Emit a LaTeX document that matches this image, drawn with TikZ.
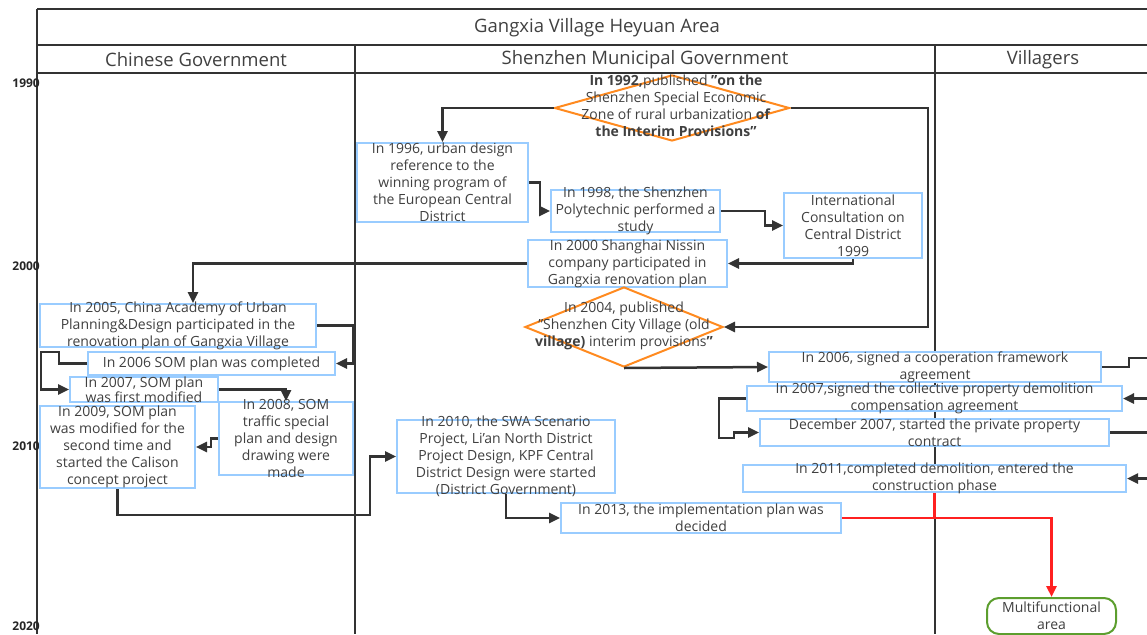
\documentclass[tikz,border=0pt]{standalone}
\usepackage{fontspec}
\setmainfont{Open Sans}
\usetikzlibrary{arrows.meta,shapes.geometric}

\definecolor{boxblue}{HTML}{99CCFF}
\definecolor{lineg}{HTML}{333333}
\definecolor{txtg}{HTML}{404040}
\definecolor{dorange}{HTML}{FF8A1F}
\definecolor{mgreen}{HTML}{5C9E2E}
\definecolor{hotred}{HTML}{FF2020}

\begin{document}
\begin{tikzpicture}[
		x=1pt, y=-1pt,
		every node/.style={font=\fontsize{14}{17}\selectfont, text=txtg, align=center, inner sep=0pt},
		box/.style={rectangle, draw=boxblue, line width=2pt, fill=white, inner xsep=2pt, inner ysep=-4pt},
		dia/.style={diamond, draw=dorange, line width=2pt, fill=white},
		head/.style={font=\fontsize{18.5}{20}\selectfont},
		year/.style={font=\bfseries\fontsize{12}{12}\selectfont, text=black!85, anchor=east},
		lane/.style={draw=lineg, line width=2.5pt},
		link/.style={draw=lineg, line width=2.5pt, -{Triangle[length=11pt,width=10pt]}},
		hot/.style={link, draw=hotred, -{Triangle[length=11pt,width=10pt]}}
	]
  \useasboundingbox (0,0) rectangle (1147,634);
  % frame and lanes
  \draw [draw=lineg, line width=1.5pt] (37,9) -- (1147,9);
  \draw [draw=lineg, line width=2pt] (37,45) -- (1147,45);
  \draw [lane] (37,73) -- (1147,73);
  \draw [lane] (37,9) -- (37,634);
  \draw [lane] (355,45) -- (355,634);
  \draw [lane] (935,45) -- (935,634);
  \node (title) [head] at (597,28) {Gangxia Village Heyuan Area};
  \node (h_cn) [head] at (196,60) {Chinese Government};
  \node (h_sz) [head] at (645,60) {Shenzhen Municipal Government};
  \node (h_vl) [head] at (1043,60) {Villagers};
  \node (y_1990) [year] at (40,83) {1990};
  \node (y_2000) [year] at (40,266) {2000};
  \node (y_2010) [year] at (40,446) {2010};
  \node (y_2020) [year] at (40,626) {2020};

  % Shenzhen Municipal Government
  \node (d_1992) [dia, minimum width=235pt, minimum height=66pt] at (672,108) {};
  \node (d_1992t) at (676,106) {\textbf{In 1992,}published \textbf{"on the}\\Shenzhen Special Economic\\Zone of rural urbanization \textbf{of}\\\textbf{the Interim Provisions"}};
  \node (b_1996) [box, minimum width=171pt, minimum height=79pt] at (442.5,182.5) {In 1996, urban design\\reference to the\\winning program of\\the European Central\\District};
  \node (b_1998) [box, minimum width=169pt, minimum height=42pt] at (635.5,211) {In 1998, the Shenzhen\\Polytechnic performed a\\study};
  \node (b_1999) [box, minimum width=138pt, minimum height=65pt] at (853,225.5) {International\\Consultation on\\Central District\\1999};
  \node (b_2000) [box, minimum width=199pt, minimum height=47pt] at (627.5,263.5) {In 2000 Shanghai Nissin\\company participated in\\Gangxia renovation plan};
  \node (d_2004) [dia, minimum width=198pt, minimum height=80pt] at (624,327) {};
  \node (d_2004t) at (624,326) {In 2004, published\\"Shenzhen City Village (old\\\textbf{village)} interim provisions\textbf{"}};
  \node (b_2010) [box, minimum width=218pt, minimum height=71pt] at (506,456.5) {In 2010, the SWA Scenario\\Project, Li'an North District\\Project Design, KPF Central\\District Design were started\\(District Government)};
  \node (b_2013) [box, minimum width=280pt, minimum height=30pt] at (701,518) {In 2013, the implementation plan was\\decided};

  % Chinese Government
  \node (b_2005) [box, minimum width=276pt, minimum height=43pt] at (178,325.5) {In 2005, China Academy of Urban\\Planning\&Design participated in the\\renovation plan of Gangxia Village};
  \node (b_2006) [box, minimum width=247pt, minimum height=23pt] at (211.5,363.5) {In 2006 SOM plan was completed};
  \node (b_2007) [box, minimum width=148pt, minimum height=25pt, font=\fontsize{14}{15}\selectfont] at (144,389.5) {In 2007, SOM plan\\was first modified};
  \node (b_2008) [box, minimum width=134pt, minimum height=73pt] at (286,438.5) {In 2008, SOM\\traffic special\\plan and design\\drawing were\\made};
  \node (b_2009) [box, minimum width=155pt, minimum height=82pt] at (117.5,447) {In 2009, SOM plan\\was modified for the\\second time and\\started the Calison\\concept project};

  % Villagers
  \node (v_2006) [box, minimum width=332pt, minimum height=30pt] at (935,367) {In 2006, signed a cooperation framework\\agreement};
  \node (v_2007) [box, minimum width=375pt, minimum height=25pt] at (934.5,398.5) {In 2007,signed the collective property demolition\\compensation agreement};
  \node (v_2007b) [box, minimum width=349pt, minimum height=27pt] at (934.5,432.5) {December 2007, started the private property\\contract};
  \node (v_2011) [box, minimum width=383pt, minimum height=27pt] at (934.5,478.5) {In 2011,completed demolition, entered the\\construction phase};
  \node (multi) [rectangle, rounded corners=12pt, draw=mgreen, line width=2pt, fill=white, minimum width=129pt, minimum height=36pt] at (1051.5,616) {Multifunctional\\area};

  \coordinate (out_a) at (1152,358);
  \coordinate (in_b) at (1152,398.5);
  \coordinate (out_c) at (1152,432.5);
  \coordinate (in_d) at (1152,478.5);

  % connectors
  \draw [link] (d_1992.west) -| (b_1996.north);
  \draw [link] (d_1992.east) -- (928,108) |- (d_2004.east);
  \draw [link] (b_1996.east) -| (540,211) -- (b_1998.west);
  \draw [link] (b_1998.east) -| (765,225.5) -- (b_1999.west);
  \draw [link] (b_1999.south) |- (b_2000.east);
  \draw [link] (b_2000.west) -| ([xshift=15pt]b_2005.north);
  \draw [link] (b_2005.east) -- ++(36,0) |- (b_2006.east);
  \draw [link] (b_2006.west) -- ++(-28,0) -- ++(0,-11.5) -- ++(-18,0) |- (b_2007.west);
  \draw [link] (b_2007.east) -| (b_2008.north);
  \draw [link] (b_2008.west) -- ++(-7,0) |- (b_2009.east);
  \draw [link] (b_2009.south) |- (370,515) |- (b_2010.west);
  \draw [link] (b_2010.south) |- (b_2013.west);
  \draw [link] (d_2004.south) -- (v_2006.west);
  \draw [lane] (v_2006.east) -- ++(27,0) |- (out_a);
  \draw [link] (in_b) -- (v_2007.east);
  \draw [link] (v_2007.west) -- ++(-27,0) -- ++(0,39.5) -- ++(15,0) |- (v_2007b.west);
  \draw [lane] (v_2007b.east) -- (out_c);
  \draw [link] (in_d) -- (v_2011.east);
  \draw [hot, -] (v_2011.south) -- (v_2011.south |- b_2013.east);
  \draw [hot] (b_2013.east) -| (multi.north);
\end{tikzpicture}
\end{document}
